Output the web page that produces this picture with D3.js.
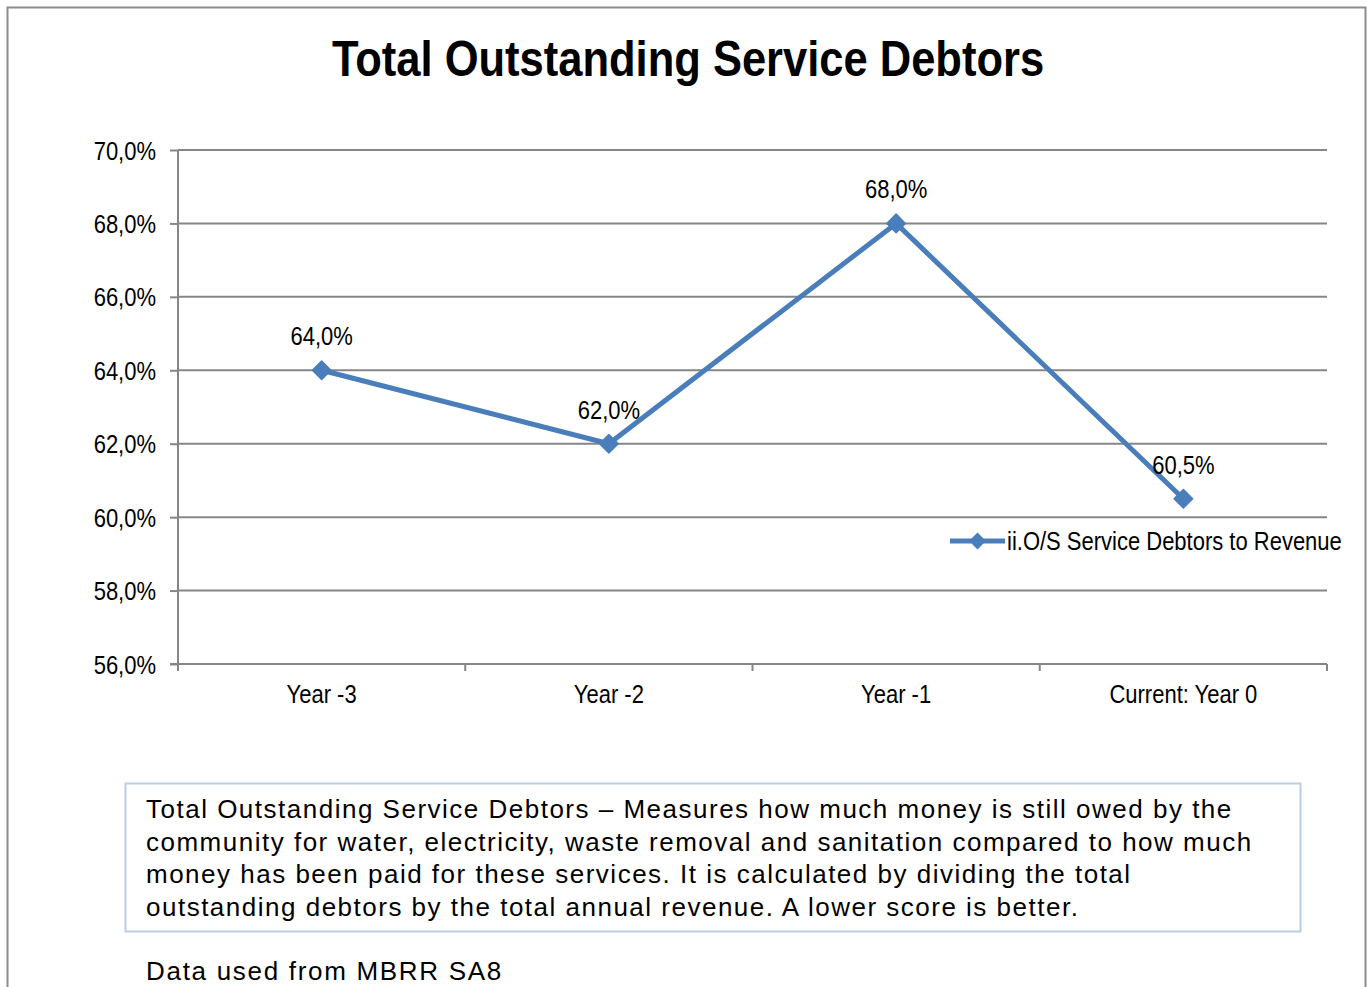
<!DOCTYPE html>
<html>
<head>
<meta charset="utf-8">
<script src="https://cdn.jsdelivr.net/npm/d3@7"></script>
<style>
  html, body { margin: 0; padding: 0; background: #fff; }
  svg { display: block; }
</style>
</head>
<body>
<svg id="chart" width="1369" height="987"></svg>
<script>
// Chart data
const categories = ["Year -3", "Year -2", "Year -1", "Current: Year 0"];
const values = [64.0, 62.0, 68.0, 60.5];
const yTicks = [56, 58, 60, 62, 64, 66, 68, 70];
const seriesName = "ii.O/S Service Debtors to Revenue";
const titleText = "Total Outstanding Service Debtors";
const noteLines = [
  "Total Outstanding Service Debtors \u2013 Measures how much money is still owed by the",
  "community for water, electricity, waste removal and sanitation compared to how much",
  "money has been paid for these services. It is calculated by dividing the total",
  "outstanding debtors by the total annual revenue. A lower score is better."
];
const sourceText = "Data used from MBRR SA8";

(function () {
const sans = "'Liberation Sans', Arial, sans-serif";
const narrowScale = 0.88;   // horizontal squeeze for the condensed chart labels
const labelSize = 25;
const lineColor = "#4a7ebb";
const gridColor = "#868686";

const svg = d3.select("#chart");

// Places a horizontally condensed text at (x, y)
function narrowText(parent, x, y, str, opts) {
  const o = Object.assign({ size: labelSize, anchor: "start", weight: "normal", sx: narrowScale }, opts || {});
  return parent.append("text")
    .attr("transform", `translate(${x},${y}) scale(${o.sx},1)`)
    .attr("text-anchor", o.anchor)
    .attr("font-family", sans)
    .attr("font-weight", o.weight)
    .attr("font-size", o.size)
    .attr("fill", "#000")
    .text(str);
}

// Outer frame
svg.append("rect")
  .attr("x", 7.5).attr("y", 7.5)
  .attr("width", 1358).attr("height", 1000)
  .attr("fill", "none").attr("stroke", "#8c8c8c").attr("stroke-width", 2);

// Title
narrowText(svg, 688, 76, titleText, { size: 50, anchor: "middle", weight: "bold", sx: 0.87 });

// Plot area
const plotL = 178, plotR = 1327, plotT = 150, plotB = 664;

const x = d3.scaleBand().domain(categories).range([plotL, plotR]).padding(0);
const y = d3.scaleLinear().domain([56, 70]).range([plotB, plotT]);

// Horizontal gridlines
svg.append("g")
  .selectAll("line")
  .data(yTicks.filter(t => t !== 56))
  .join("line")
  .attr("x1", plotL).attr("x2", plotR)
  .attr("y1", d => y(d)).attr("y2", d => y(d))
  .attr("stroke", gridColor).attr("stroke-width", 2);

// Y axis
const fmtPct = d => d3.format(".1f")(d).replace(".", ",") + "%";
const yAxis = d3.axisLeft(y)
  .tickValues(yTicks)
  .tickSize(8)
  .tickPadding(14)
  .tickFormat(fmtPct);

const gy = svg.append("g").attr("transform", `translate(${plotL},0)`).call(yAxis);
gy.select(".domain").attr("stroke", gridColor).attr("stroke-width", 2)
  .attr("d", `M0,${plotT}V${plotB}`);
gy.selectAll(".tick line").attr("stroke", gridColor).attr("stroke-width", 2);
gy.selectAll(".tick text")
  .attr("x", -22 / narrowScale)
  .attr("dy", "0.36em")
  .attr("transform", `scale(${narrowScale},1)`)
  .attr("font-family", sans).attr("font-size", labelSize).attr("fill", "#000");

// X axis with boundary ticks between categories
const xAxisG = svg.append("g").attr("transform", `translate(0,${plotB})`);
xAxisG.append("line")
  .attr("x1", plotL - 8).attr("x2", plotR)
  .attr("y1", 0).attr("y2", 0)
  .attr("stroke", gridColor).attr("stroke-width", 2);
const boundaries = categories.map(c => x(c)).concat([x(categories[categories.length - 1]) + x.bandwidth()]);
xAxisG.selectAll("line.tk")
  .data(boundaries)
  .join("line")
  .attr("class", "tk")
  .attr("x1", d => d).attr("x2", d => d)
  .attr("y1", 0).attr("y2", 7)
  .attr("stroke", gridColor).attr("stroke-width", 2);
categories.forEach(c => {
  narrowText(xAxisG, x(c) + x.bandwidth() / 2, 39, c, { anchor: "middle" });
});

// Series line
const pts = categories.map((c, i) => ({ c, v: values[i] }));
const cx = d => x(d.c) + x.bandwidth() / 2;

svg.append("path")
  .datum(pts)
  .attr("fill", "none")
  .attr("stroke", lineColor)
  .attr("stroke-width", 5)
  .attr("stroke-linejoin", "round")
  .attr("d", d3.line().x(cx).y(d => y(d.v)));

const diamond = d3.symbol().type(d3.symbolDiamond2).size(220);
svg.append("g")
  .selectAll("path")
  .data(pts)
  .join("path")
  .attr("transform", d => `translate(${cx(d)},${y(d.v)})`)
  .attr("d", diamond)
  .attr("fill", lineColor)
  .attr("stroke", lineColor).attr("stroke-width", 1.5).attr("stroke-linejoin", "round");

// Value labels
const labelG = svg.append("g");
pts.forEach(d => {
  narrowText(labelG, cx(d), y(d.v) - 25, fmtPct(d.v), { anchor: "middle" });
});

// Legend
const lg = svg.append("g").attr("transform", "translate(950,541)");
lg.append("line").attr("x1", 0).attr("x2", 55).attr("y1", 0).attr("y2", 0)
  .attr("stroke", lineColor).attr("stroke-width", 5);
lg.append("path").attr("transform", "translate(27.5,0)")
  .attr("d", d3.symbol().type(d3.symbolDiamond2).size(180))
  .attr("fill", lineColor);
narrowText(lg, 57, 9, seriesName);

// Explanatory note box
svg.append("rect")
  .attr("x", 125.5).attr("y", 783.5)
  .attr("width", 1175).attr("height", 148)
  .attr("fill", "#fff").attr("stroke", "#b9cde5").attr("stroke-width", 2);

svg.append("g")
  .selectAll("text")
  .data(noteLines)
  .join("text")
  .attr("x", 146)
  .attr("y", (d, i) => 818 + i * 32.6)
  .attr("font-family", sans).attr("font-size", 26).attr("letter-spacing", 1.5)
  .attr("fill", "#000")
  .text(d => d);

svg.append("text")
  .attr("x", 146).attr("y", 980)
  .attr("font-family", sans).attr("font-size", 26).attr("letter-spacing", 1.7)
  .attr("fill", "#000")
  .text(sourceText);
})();
</script>
</body>
</html>
